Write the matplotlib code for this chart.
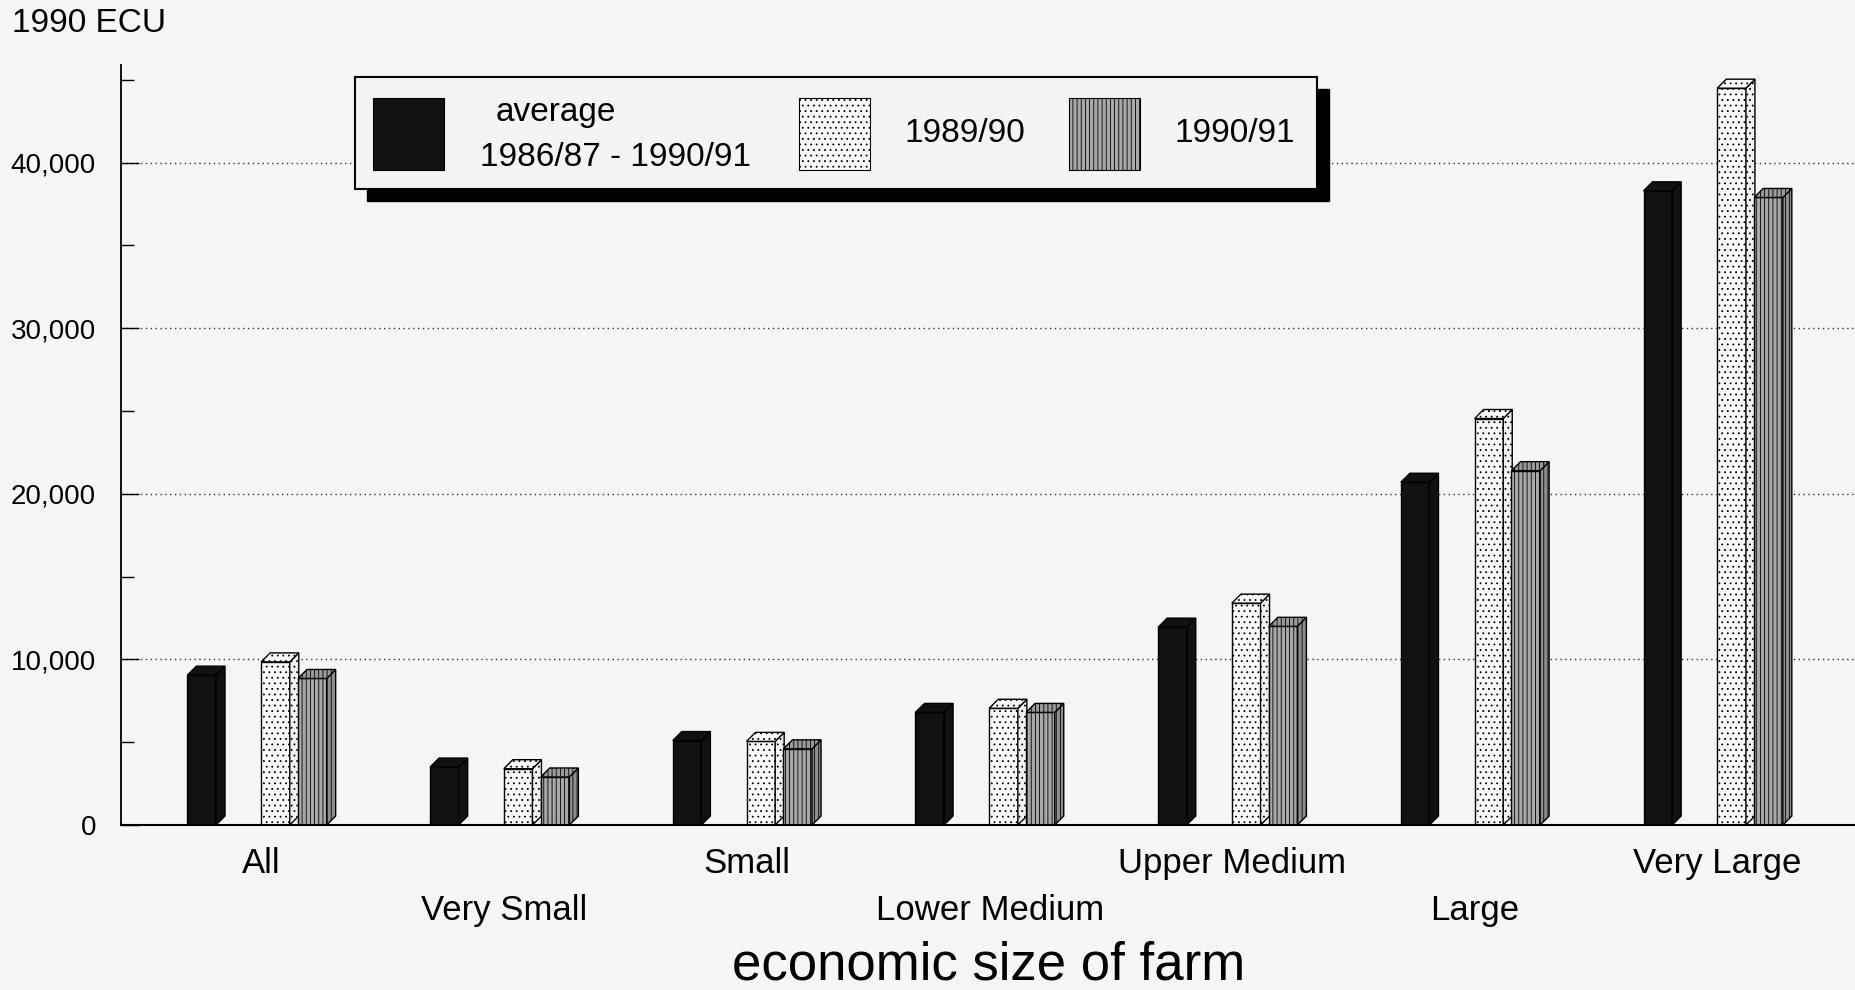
import matplotlib.pyplot as plt
from matplotlib.patches import Polygon, Rectangle
from matplotlib.ticker import FuncFormatter, MultipleLocator

# data (front face tops, 1990 ECU)
categories = ["All", "Very Small", "Small", "Lower Medium", "Upper Medium", "Large", "Very Large"]
avg_86_91 = [9050, 3500, 5100, 6800, 11950, 20700, 38300]
y_1989_90 = [9850, 3400, 5050, 7050, 13400, 24550, 44500]
y_1990_91 = [8850, 2900, 4600, 6800, 12000, 21400, 37900]
series_labels = ["average\n1986/87 - 1990/91", "1989/90", "1990/91"]

plt.rcParams['font.family'] = ['Liberation Sans', 'DejaVu Sans']
plt.rcParams['hatch.linewidth'] = 0.6

BG = '#f6f6f6'

# styles for each series: front, side, top colours and hatch
styles = [
    dict(front='#111111', side='#111111', top='#111111', hatch=None),
    dict(front='#fbfbfb', side='#f2f2f2', top='#fbfbfb', hatch='...'),
    dict(front='#a8a8a8', side='#8e8e8e', top='#9a9a9a', hatch='||||'),
]

fig = plt.figure(figsize=(18.56, 9.9), dpi=100, facecolor=BG)
ax = fig.add_axes([121 / 1856, 165 / 990, 1 - 121 / 1856, 760 / 990])
ax.set_facecolor(BG)
ax.set_xlim(-0.579, 6.570)
ax.set_ylim(0, 45900)

# 3d depth of the bars: 9 px right and up, converted to data units
p0 = ax.transData.transform((0, 0))
inv = ax.transData.inverted()
dx, dy = inv.transform(p0 + [9, 9]) - inv.transform(p0)

slot = 0.152
width = 0.118
offsets = [-1.5 * slot, 0.5 * slot, 1.5 * slot]


def bar3d(x, h, st, z):
    ax.bar(x, h, width, color=st['front'], edgecolor='black', hatch=st['hatch'],
           linewidth=1, zorder=z)
    r = x + width / 2
    l = x - width / 2
    side = Polygon([(r, 0), (r + dx, dy), (r + dx, h + dy), (r, h)], closed=True,
                   facecolor=st['side'], edgecolor='black', hatch=st['hatch'],
                   linewidth=1, zorder=z)
    top = Polygon([(l, h), (r, h), (r + dx, h + dy), (l + dx, h + dy)], closed=True,
                  facecolor=st['top'], edgecolor='black', hatch=st['hatch'],
                  linewidth=1, zorder=z)
    ax.add_patch(side)
    ax.add_patch(top)


series = [avg_86_91, y_1989_90, y_1990_91]
for i in range(len(categories)):
    for k, vals in enumerate(series):
        bar3d(i + offsets[k] - dx / 2, vals[i], styles[k], 3 + i * 3 + k)

# axes styling
for s in ['top', 'right']:
    ax.spines[s].set_visible(False)
ax.spines['left'].set_linewidth(1.3)
ax.spines['bottom'].set_linewidth(1.5)
ax.spines['bottom'].set_zorder(50)

ax.yaxis.set_major_locator(MultipleLocator(10000))
ax.yaxis.set_minor_locator(MultipleLocator(5000))
ax.yaxis.set_major_formatter(FuncFormatter(lambda v, p: f"{int(v):,}"))
ax.tick_params(axis='y', which='major', direction='in', length=13, width=1,
               labelsize=20, pad=18)
ax.tick_params(axis='y', which='minor', direction='in', length=9, width=1)
ax.grid(axis='y', which='major', linestyle=(0, (1, 2.5)), color='#333333', linewidth=1)
ax.set_axisbelow(True)

ax.set_xticks(range(len(categories)))
ax.set_xticklabels(categories, fontsize=25)
ax.tick_params(axis='x', length=0)
for i, t in enumerate(ax.xaxis.get_major_ticks()):
    t.set_pad(16 if i % 2 == 0 else 50)

ax.set_xlabel("economic size of farm", fontsize=38)
ax.xaxis.label.set_va('center')
ax.xaxis.set_label_coords(0.5, -140 / 760)

fig.text(12 / 1856, 1 - 24 / 990, "1990 ECU", fontsize=24, ha='left', va='center')

# legend drawn in pixel coordinates on an overlay axes
lg = fig.add_axes([0, 0, 1, 1], zorder=100)
lg.set_xlim(0, 1856)
lg.set_ylim(990, 0)
lg.set_axis_off()
lg.patch.set_visible(False)
lg.add_patch(Rectangle((367, 89), 962, 112, facecolor='black', edgecolor='black'))
lg.add_patch(Rectangle((355, 77), 962, 112, facecolor='#f4f4f4', edgecolor='black',
                       linewidth=1.5))
swatch_x = [373, 799, 1069]
for k, st in enumerate(styles):
    lg.add_patch(Rectangle((swatch_x[k], 98), 71, 72, facecolor=st['front'],
                           edgecolor='black', hatch=st['hatch'], linewidth=0.8))
first, second = series_labels[0].split("\n")
lg.text(556, 113, first, fontsize=24, ha='center', va='center')
lg.text(616, 157, second, fontsize=24, ha='center', va='center')
lg.text(965, 133, series_labels[1], fontsize=24, ha='center', va='center')
lg.text(1235, 133, series_labels[2], fontsize=24, ha='center', va='center')

fig.savefig("out.png", dpi=100, facecolor=BG)
